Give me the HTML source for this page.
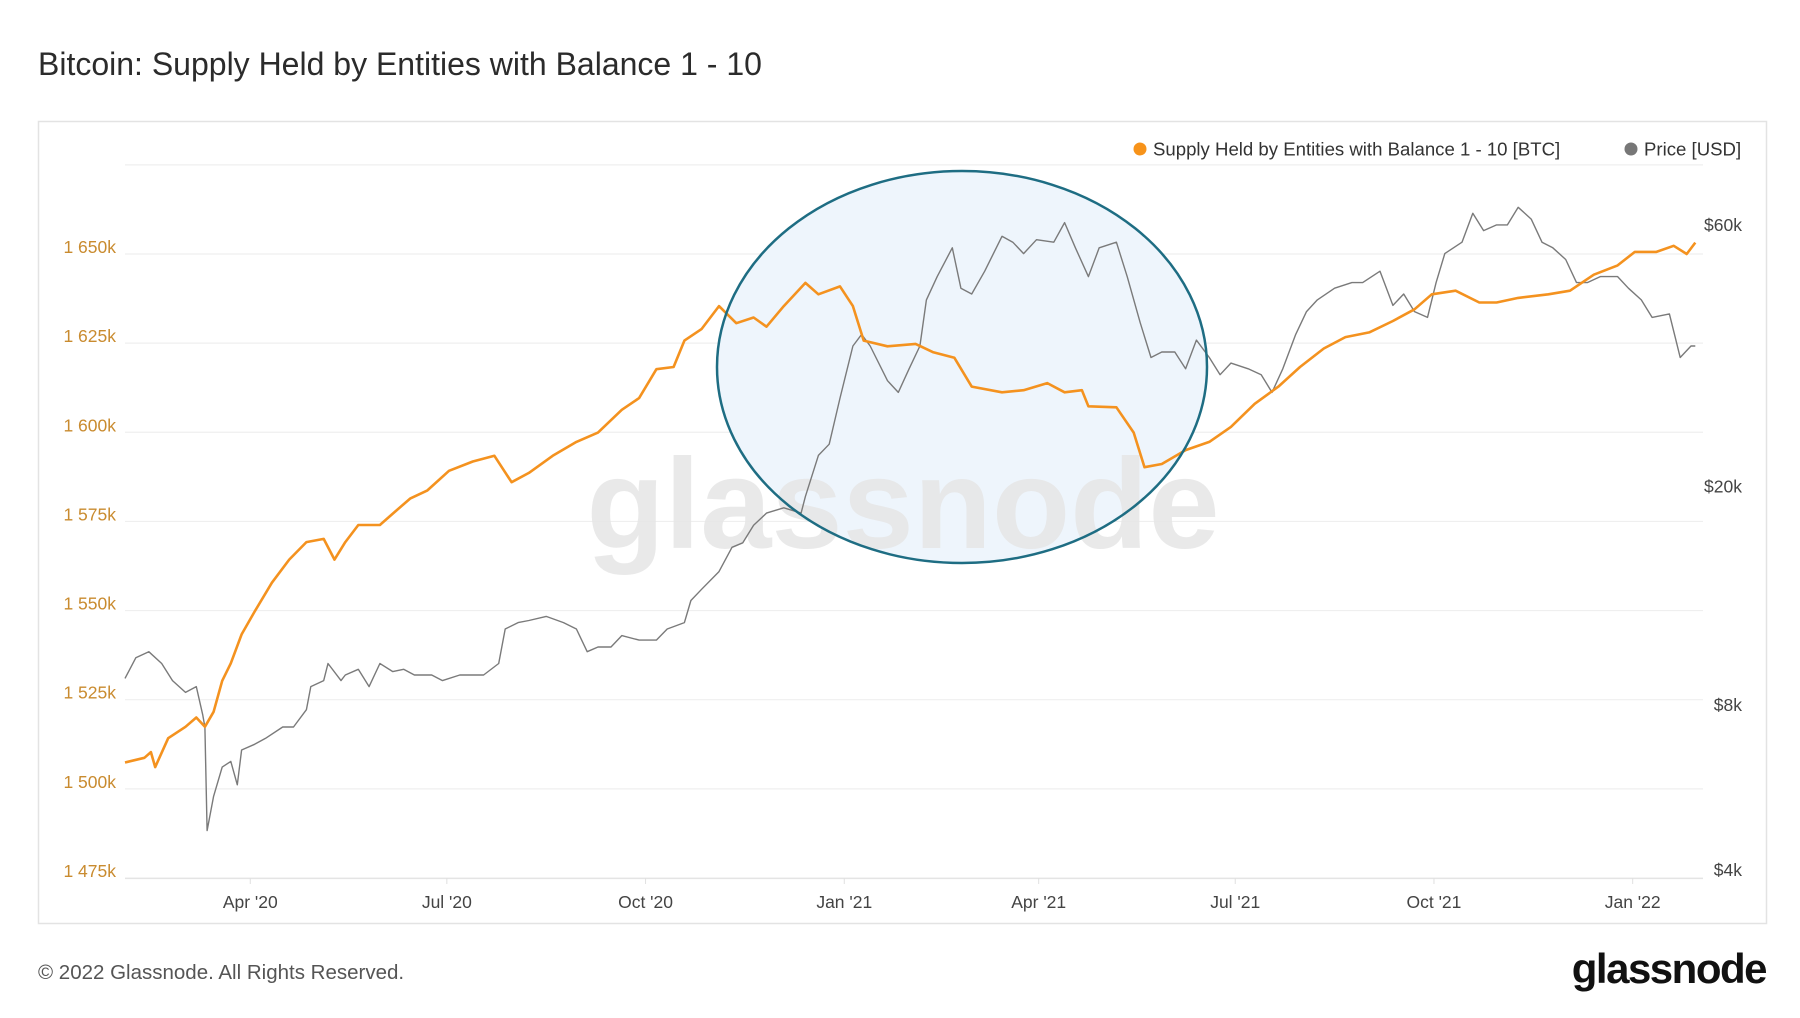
<!DOCTYPE html>
<html><head><meta charset="utf-8">
<style>
html,body{margin:0;padding:0;background:#fff;}
body{width:1800px;height:1013px;overflow:hidden;font-family:"Liberation Sans",sans-serif;}
</style></head>
<body>
<svg id="chart" width="1800" height="1013" viewBox="0 0 1800 1013" xmlns="http://www.w3.org/2000/svg">
  <text x="38" y="75" font-size="32" fill="#2b2b2b" font-family="Liberation Sans, sans-serif">Bitcoin: Supply Held by Entities with Balance 1 - 10</text>
  <rect x="38.5" y="121.5" width="1728" height="802" fill="#fff" stroke="#e3e3e3" stroke-width="1.5"/>
  <g id="grid"></g>
  <ellipse cx="962" cy="367" rx="245" ry="196" fill="#eef5fc"/>
  <text x="903" y="548" font-size="128" text-anchor="middle" fill="#e6e6e6" font-weight="bold" font-family="Liberation Sans, sans-serif" opacity="0.85">glassnode</text>
  <g id="axes"></g>
  <g id="series"></g>
  <ellipse cx="962" cy="367" rx="245" ry="196" fill="none" stroke="#1e6d83" stroke-width="2.5"/>
  <g>
    <g>
      <circle cx="1140" cy="149" r="6.5" fill="#f7931a"/>
      <text x="1153" y="155.5" font-size="18.6" fill="#333">Supply Held by Entities with Balance 1 - 10 [BTC]</text>
    </g>
    <g>
      <circle cx="1631" cy="149" r="6.5" fill="#777"/>
      <text x="1644" y="155.5" font-size="18.6" fill="#333">Price [USD]</text>
    </g>
  </g>
  <text x="38" y="979" font-size="20.5" fill="#555">© 2022 Glassnode. All Rights Reserved.</text>
  <text x="1766" y="983" font-size="42" text-anchor="end" fill="#111" font-weight="bold" letter-spacing="-1.5">glassnode</text>
</svg>
<script>
// Days since 2020-02-03
const supplyDays = [0,9,12,14,20,28,33,37,41,45,49,54,60,68,76,84,92,97,102,108,118,124,132,140,150,161,171,179,187,198,209,219,230,238,246,254,259,267,275,283,291,297,305,315,321,331,337,342,353,366,374,384,392,406,416,427,435,443,446,459,467,472,480,491,502,512,523,534,544,555,565,576,587,597,605,616,627,635,645,659,669,680,691,699,709,717,723,727];
// Supply in thousands BTC
const supplyValues = [1507.4,1508.7,1510.3,1506.1,1514.2,1517.4,1520.0,1517.4,1521.6,1530.3,1535.2,1543.3,1549.7,1557.8,1564.3,1569.2,1570.1,1564.3,1569.2,1574.0,1574.0,1577.2,1581.4,1583.7,1589.2,1591.8,1593.4,1586.0,1588.6,1593.4,1597.3,1599.9,1606.3,1609.6,1617.7,1618.3,1625.7,1629.0,1635.4,1630.6,1632.2,1629.6,1635.4,1641.9,1638.7,1640.9,1635.4,1625.7,1624.1,1624.8,1622.5,1620.9,1612.8,1611.2,1611.8,1613.8,1611.2,1611.8,1607.3,1607.0,1599.9,1590.2,1591.1,1595.0,1597.3,1601.5,1608.0,1612.8,1618.3,1623.5,1626.7,1628.0,1631.2,1634.5,1638.7,1639.7,1636.4,1636.4,1637.7,1638.7,1639.7,1644.2,1646.8,1650.6,1650.6,1652.3,1650.0,1653.2];
const priceDays = [0,5,11,17,22,28,33,36,37,38,41,45,49,52,54,60,65,73,78,84,86,92,94,100,102,108,113,118,124,129,134,142,147,155,166,173,176,182,187,195,203,209,214,219,225,230,238,246,251,259,262,267,275,281,286,291,297,305,313,315,321,326,331,337,341,345,353,358,363,368,371,376,383,387,392,398,406,411,416,422,430,435,440,446,451,459,464,470,475,480,486,491,496,502,507,512,520,526,531,536,542,547,552,560,568,573,581,587,592,597,603,607,611,619,624,629,635,640,645,651,656,661,667,672,677,683,691,696,702,707,715,718,720,725,727];
// Price in thousands USD
const priceValues = [8.94,9.75,10.0,9.52,8.86,8.43,8.64,7.66,7.29,4.72,5.45,6.16,6.31,5.72,6.62,6.78,6.95,7.29,7.29,7.84,8.64,8.86,9.52,8.86,9.07,9.29,8.64,9.52,9.20,9.29,9.07,9.07,8.86,9.07,9.07,9.52,11.0,11.3,11.4,11.6,11.3,11.0,10.0,10.2,10.2,10.7,10.5,10.5,11.0,11.3,12.4,13.0,14.0,15.5,15.8,17.0,17.9,18.3,17.9,19.2,22.8,23.9,29.0,36.1,37.9,36.1,31.2,29.7,32.8,36.1,43.8,48.3,54.5,46.0,44.9,49.4,57.2,55.8,53.2,56.4,55.8,60.6,54.5,48.3,54.5,55.8,48.3,39.8,34.4,35.2,35.2,32.8,37.0,34.4,32.0,33.6,32.8,32.0,29.7,32.8,37.9,41.7,43.8,46.0,47.1,47.1,49.4,42.8,44.9,41.7,40.7,47.1,53.2,55.8,63.0,58.6,60.0,60.0,64.6,61.5,55.8,54.5,51.9,47.1,47.1,48.3,48.3,46.0,43.8,40.7,41.3,37.0,34.4,36.1,36.1];
const leftTicks = [1475,1500,1525,1550,1575,1600,1625,1650,1675];
const leftTickLabels = ["1 475k","1 500k","1 525k","1 550k","1 575k","1 600k","1 625k","1 650k",""];
const rightTicks = [4,8,20,60];
const rightTickLabels = ["$4k","$8k","$20k","$60k"];
const xTickDays = [58,149,241,333,423,514,606,698];
const xTickLabels = ["Apr '20","Jul '20","Oct '20","Jan '21","Apr '21","Jul '21","Oct '21","Jan '22"];

const NS = "http://www.w3.org/2000/svg";
const X0 = 125, X1 = 1703, PXDAY = 2.16;
function xs(d){ return X0 + d*PXDAY; }
function yl(v){ return 254 + (1650 - v)*89.14/25; }
function yr(p){ return 870 - Math.log(p/4)*238.2; }
function mk(tag, attrs, parent){
  const e = document.createElementNS(NS, tag);
  for (const k in attrs) e.setAttribute(k, attrs[k]);
  parent.appendChild(e); return e;
}
const grid = document.getElementById('grid');
const axes = document.getElementById('axes');
const series = document.getElementById('series');

leftTicks.forEach((v,i)=>{
  const y = yl(v);
  const ln = mk('line',{x1:X0,x2:X1,y1:y,y2:y,stroke:'#efefef','stroke-width':1.2},grid);
  
  
  if (leftTickLabels[i]) {
    const t = mk('text',{x:116,y:y-1,'font-size':17.5,'text-anchor':'end',fill:'#c98b2f','font-family':'Liberation Sans, sans-serif'},axes);
    t.textContent = leftTickLabels[i];
    
    
  }
});
mk('line',{x1:X0,x2:X1,y1:878.5,y2:878.5,stroke:'#e4e4e4','stroke-width':1.2},axes);
rightTicks.forEach((p,i)=>{
  const t = mk('text',{x:1742,y:yr(p)+6,'font-size':17.5,'text-anchor':'end',fill:'#444','font-family':'Liberation Sans, sans-serif'},axes);
  t.textContent = rightTickLabels[i];
  
  
});
xTickDays.forEach((d,i)=>{
  const x = xs(d);
  const tk = mk('line',{x1:x,x2:x,y1:878,y2:884,stroke:'#e0e0e0'},axes);
  
  
  const t = mk('text',{x:x,y:908,'font-size':17.5,'text-anchor':'middle',fill:'#444','font-family':'Liberation Sans, sans-serif'},axes);
  t.textContent = xTickLabels[i];
  
  
});

function pathFrom(days, vals, yf){
  return days.map((d,i)=>(i?'L':'M')+xs(d).toFixed(1)+','+yf(vals[i]).toFixed(1)).join(' ');
}
const pp = mk('path',{d:pathFrom(priceDays,priceValues,yr),fill:'none',stroke:'#7a7a7a','stroke-width':1.4,'stroke-linejoin':'round'},series);


const sp = mk('path',{d:pathFrom(supplyDays,supplyValues,yl),fill:'none',stroke:'#f4921f','stroke-width':2.6,'stroke-linejoin':'round'},series);


</script>
</body></html>
